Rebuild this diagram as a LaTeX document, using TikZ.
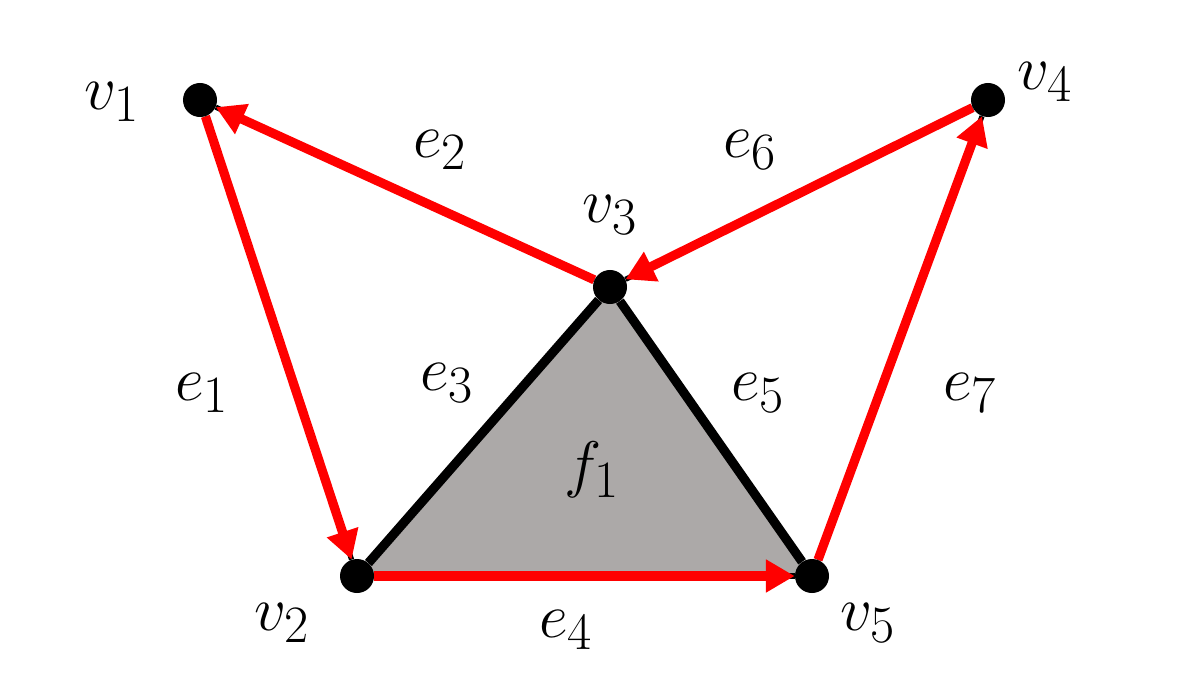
\documentclass[tikz,border=0pt]{standalone}
\usetikzlibrary{arrows.meta,backgrounds}
\begin{document}
\begin{tikzpicture}[x=0.025cm,y=-0.025cm,
  vtx/.style={circle,fill=black,inner sep=0pt,minimum size=0.85cm},
  lab/.style={font=\Huge,scale=1.8,inner sep=0pt},
  redge/.style={draw=red,line width=0.23cm,-{Triangle[length=0.72cm,width=0.78cm]}},
  bedge/.style={draw=black,line width=0.23cm},
  under/.style={draw=black,line width=0.13cm}]
\useasboundingbox (0,0) rectangle (1200,675);
\node[vtx] (v1) at (200,100) {};
\node[vtx] (v2) at (357,576) {};
\node[vtx] (v3) at (610,287) {};
\node[vtx] (v4) at (988,100) {};
\node[vtx] (v5) at (812,576) {};
\begin{scope}[on background layer]
  \fill[fill={rgb,255:red,172;green,169;blue,168}] (v2.center) -- (v3.center) -- (v5.center) -- cycle;
  \draw[bedge] (v2) -- (v3);
  \draw[bedge] (v3) -- (v5);
  \draw[under] (v1) -- (v2);
  \draw[under] (v3) -- (v1);
  \draw[under] (v4) -- (v3);
  \draw[under] (v2) -- (v5);
  \draw[under] (v5) -- (v4);
  \draw[redge] (v1) -- (v2);
  \draw[redge] (v3) -- (v1);
  \draw[redge] (v4) -- (v3);
  \draw[redge] (v2) -- (v5);
  \draw[redge] (v5) -- (v4);
\end{scope}
\node[lab] (l1) at (112,102) {$v_1$};
\node[lab] (l2) at (282,623) {$v_2$};
\node[lab] (l3) at (610,215) {$v_3$};
\node[lab] (l4) at (1045,82) {$v_4$};
\node[lab] (l5) at (868,623) {$v_5$};
\node[lab] (le1) at (202,393) {$e_1$};
\node[lab] (le2) at (440,150) {$e_2$};
\node[lab] (le3) at (447,383) {$e_3$};
\node[lab] (le4) at (566,630) {$e_4$};
\node[lab] (le5) at (758,393) {$e_5$};
\node[lab] (le6) at (750,150) {$e_6$};
\node[lab] (le7) at (970,393) {$e_7$};
\node[lab] (lf1) at (592,470) {$f_1$};
\end{tikzpicture}
\end{document}
